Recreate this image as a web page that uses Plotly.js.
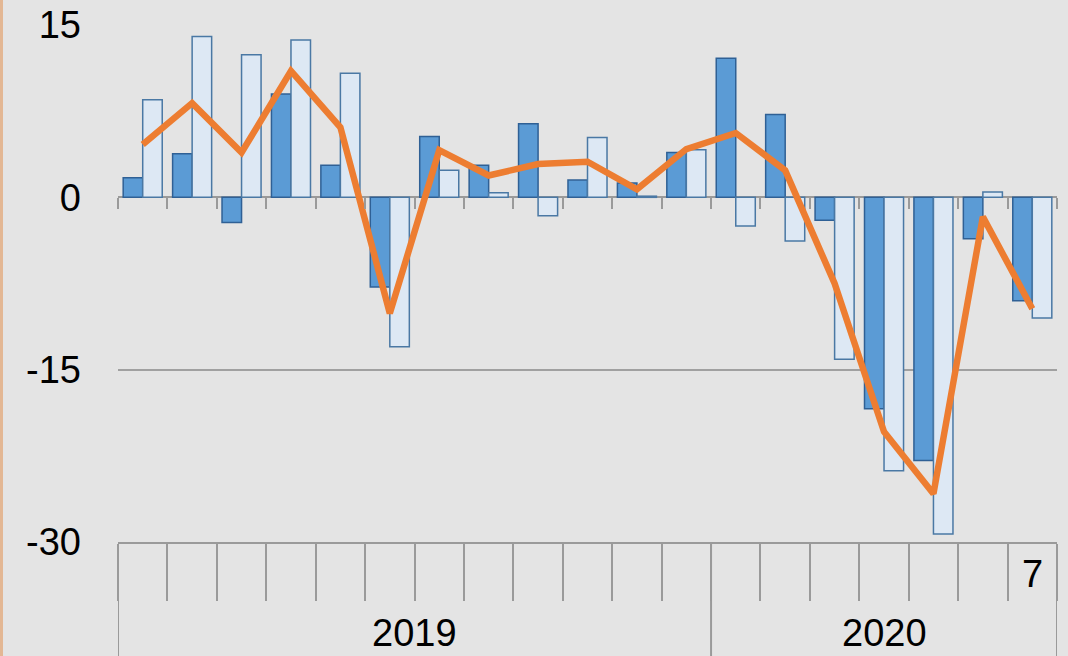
<!DOCTYPE html>
<html>
<head>
<meta charset="utf-8">
<script src="https://cdn.plot.ly/plotly-3.0.1.min.js"></script>
<style>
  html, body { margin: 0; padding: 0; background: #e4e4e4; }
  #chart { width: 1068px; height: 656px; }
</style>
</head>
<body>
<div id="chart"></div>
<script>
// Months Jan 2019 .. Jul 2020
const categories = ['2019-01','2019-02','2019-03','2019-04','2019-05','2019-06','2019-07','2019-08','2019-09','2019-10','2019-11','2019-12',
                    '2020-01','2020-02','2020-03','2020-04','2020-05','2020-06','2020-07'];
const darkValues  = [1.7, 3.8, -2.2, 9.0, 2.8, -7.8, 5.3, 2.8, 6.4, 1.5, 1.25, 3.9, 12.1, 7.2, -2.0, -18.4, -22.9, -3.6, -9.0];
const lightValues = [8.5, 14.0, 12.4, 13.7, 10.8, -13.0, 2.35, 0.4, -1.6, 5.2, 0.1, 4.15, -2.5, -3.8, -14.1, -23.8, -29.3, 0.46, -10.5];
const lineValues  = [4.6, 8.2, 3.9, 11.0, 6.1, -10.1, 4.1, 1.9, 2.9, 3.1, 0.7, 4.2, 5.6, 2.35, -7.5, -20.4, -25.8, -1.7, -9.7];
const monthLabels = ['', '', '', '', '', '', '', '', '', '', '', '', '', '', '', '', '', '', '7'];
const yearLabels  = ['2019', '2020'];
const yearCounts  = [12, 7];
const yTicks      = [15, 0, -15, -30];

const FONT = 'Liberation Sans, Arial, sans-serif';

const traces = [
  {
    type: 'bar', x: categories, y: darkValues,
    marker: { color: '#5b9bd5', line: { color: '#2f6095', width: 1.5 } },
    showlegend: false, hoverinfo: 'skip'
  },
  {
    type: 'bar', x: categories, y: lightValues,
    marker: { color: '#dde8f4', line: { color: '#4a78a4', width: 1.5 } },
    showlegend: false, hoverinfo: 'skip'
  },
  {
    type: 'scatter', mode: 'lines', x: categories, y: lineValues,
    xaxis: 'x2', yaxis: 'y',
    line: { color: '#ed7d31', width: 6.5, shape: 'linear' },
    showlegend: false, hoverinfo: 'skip'
  }
];

const yMin = -30, yMax = 15;
const zeroFrac = (0 - yMin) / (yMax - yMin);

// annotations and shapes derived from the label arrays
const annotations = [];
const shapes = [];
let start = 0;
shapes.push({ type: 'line', xref: 'x', yref: 'paper', ysizemode: 'pixel', yanchor: 0,
  x0: -0.5, x1: -0.5, y0: 0, y1: -130, line: { color: '#9a9a9a', width: 2 } });
yearLabels.forEach((yl, i) => {
  const n = yearCounts[i];
  annotations.push({ x: start + (n - 1) / 2, y: 0, xref: 'x', yref: 'paper', yanchor: 'middle',
    yshift: -91, text: yl, showarrow: false, font: { family: FONT, size: 38, color: '#000' } });
  const end = start + n - 0.5;
  shapes.push({ type: 'line', xref: 'x', yref: 'paper', ysizemode: 'pixel', yanchor: 0,
    x0: end, x1: end, y0: 0, y1: -130, line: { color: '#9a9a9a', width: 2 } });
  start += n;
});
monthLabels.forEach((m, i) => {
  if (!m) return;
  annotations.push({ x: i, y: 0, xref: 'x', yref: 'paper', yanchor: 'middle',
    yshift: -32, text: m, showarrow: false, font: { family: FONT, size: 38, color: '#000' } });
});
// thin tan strip at the left edge
shapes.push({ type: 'rect', xref: 'paper', xsizemode: 'pixel', xanchor: 0, x0: -118, x1: -115,
  yref: 'paper', y0: -1, y1: 2, fillcolor: '#e3b794', line: { width: 0 } });

const layout = {
  width: 1068, height: 656,
  margin: { l: 118, r: 11, t: 25, b: 114 },
  paper_bgcolor: '#e4e4e4', plot_bgcolor: '#e4e4e4',
  font: { family: FONT, size: 38, color: '#000' },
  barmode: 'group', bargap: 0.21, bargroupgap: 0,
  showlegend: false,
  xaxis: {
    type: 'category', categoryorder: 'array', categoryarray: categories,
    range: [-0.5, categories.length - 0.5],
    showticklabels: false, showgrid: false, zeroline: false,
    showline: true, linecolor: '#9a9a9a', linewidth: 2,
    ticks: 'outside', tickson: 'boundaries', ticklen: 57, tickwidth: 2, tickcolor: '#9a9a9a'
  },
  xaxis2: {
    type: 'category', categoryorder: 'array', categoryarray: categories,
    range: [-0.5, categories.length - 0.5],
    overlaying: 'x', anchor: 'free', position: zeroFrac, side: 'bottom',
    showticklabels: false, showgrid: false, zeroline: false,
    showline: false,
    ticks: 'outside', tickson: 'boundaries', ticklen: 11, tickwidth: 2, tickcolor: '#9a9a9a'
  },
  yaxis: {
    range: [yMin, yMax], tickvals: yTicks, ticktext: yTicks.map(String),
    showgrid: true, gridcolor: '#a0a0a0', gridwidth: 2,
    zeroline: true, zerolinecolor: '#9a9a9a', zerolinewidth: 2,
    showline: false, ticks: '', ticklabelstandoff: 36,
    tickfont: { family: FONT, size: 38, color: '#000' }
  },
  annotations: annotations,
  shapes: shapes
};

Plotly.newPlot('chart', traces, layout, { staticPlot: true, displayModeBar: false });
</script>
</body>
</html>
